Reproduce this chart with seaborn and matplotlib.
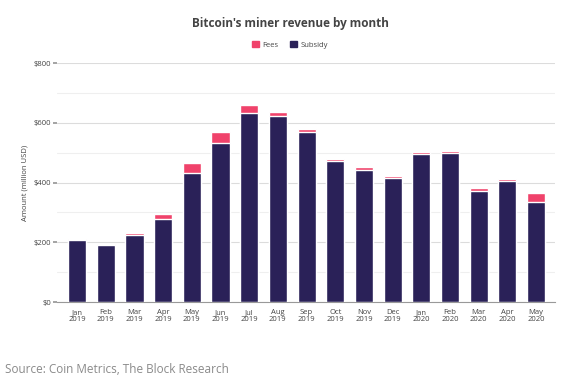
import pandas as pd
import numpy as np
import matplotlib.pyplot as plt
import seaborn as sns
from matplotlib.ticker import MultipleLocator, FuncFormatter

# Monthly miner revenue, million USD
months = ["Jan\n2019", "Feb\n2019", "Mar\n2019", "Apr\n2019", "May\n2019", "Jun\n2019",
          "Jul\n2019", "Aug\n2019", "Sep\n2019", "Oct\n2019", "Nov\n2019", "Dec\n2019",
          "Jan\n2020", "Feb\n2020", "Mar\n2020", "Apr\n2020", "May\n2020"]
subsidy = [207, 190, 224, 279, 431, 533, 634, 622, 568, 471, 442, 416, 495, 498, 372, 405, 334]
fees = [5, 3, 6, 15, 34, 35, 24, 13, 10, 9, 9, 7, 6, 8, 9, 7, 30]

FEES_COLOR = "#f0426b"
SUBSIDY_COLOR = "#2a2158"

sns.set_theme(style="white")
plt.rcParams["font.family"] = ["Open Sans", "DejaVu Sans"]

df = pd.DataFrame({"month": months, "subsidy": subsidy, "fees": fees})
df["total"] = df["subsidy"] + df["fees"]

fig = plt.figure(figsize=(5.68, 3.87), dpi=100)
ax = fig.add_axes([0.1004, 0.2196, 0.8766, 0.6174])

# stacked bars: total (fees colour) behind, subsidy in front
sns.barplot(data=df, x="month", y="total", color=FEES_COLOR, width=0.63,
            saturation=1, ax=ax, zorder=3)
sns.barplot(data=df, x="month", y="subsidy", color=SUBSIDY_COLOR, width=0.63,
            saturation=1, ax=ax, zorder=4)

ax.set_xlim(-0.7, 16.66)
ax.set_ylim(0, 800)
ax.yaxis.set_major_locator(MultipleLocator(200))
ax.yaxis.set_minor_locator(MultipleLocator(100))
ax.yaxis.set_major_formatter(FuncFormatter(lambda v, p: f"${int(v)}"))
ax.grid(axis="y", which="major", color="#dcdcdc", linewidth=0.8, zorder=0)
ax.grid(axis="y", which="minor", color="#efefef", linewidth=0.8, zorder=0)
ax.grid(axis="x", visible=False)

for s in ["top", "right", "left"]:
    ax.spines[s].set_visible(False)
ax.spines["bottom"].set_color("#999999")
ax.spines["bottom"].set_linewidth(0.8)

ax.tick_params(axis="y", which="major", length=3, color="#999999", labelsize=5.5,
               labelcolor="#444444", pad=1, left=True)
ax.tick_params(axis="y", which="minor", length=0)
ax.tick_params(axis="x", length=0, labelsize=5.5, labelcolor="#444444", pad=5)
for lbl in ax.get_xticklabels():
    lbl.set_linespacing(1.0)

ax.set_xlabel("")
ax.set_ylabel("Amount (million USD)", fontsize=5.5, color="#444444", labelpad=4)

fig.text(0.511, 0.94, "Bitcoin's miner revenue by month", ha="center", va="center",
         fontsize=8.5, fontweight="bold", color="#444444")

handles = [plt.Rectangle((0, 0), 1, 1, color=FEES_COLOR),
           plt.Rectangle((0, 0), 1, 1, color=SUBSIDY_COLOR)]
fig.legend(handles, ["Fees", "Subsidy"], loc="center", bbox_to_anchor=(0.511, 0.884),
           ncol=2, frameon=False, fontsize=5.5, handlelength=0.9, handleheight=0.9,
           handletextpad=0.5, columnspacing=1.5, labelcolor="#444444")

fig.text(0.009, 0.045, "Source: Coin Metrics, The Block Research", ha="left", va="center",
         fontsize=8.5, color="#8a8a8a")

fig.savefig("out.png", dpi=100)
plt.close(fig)
